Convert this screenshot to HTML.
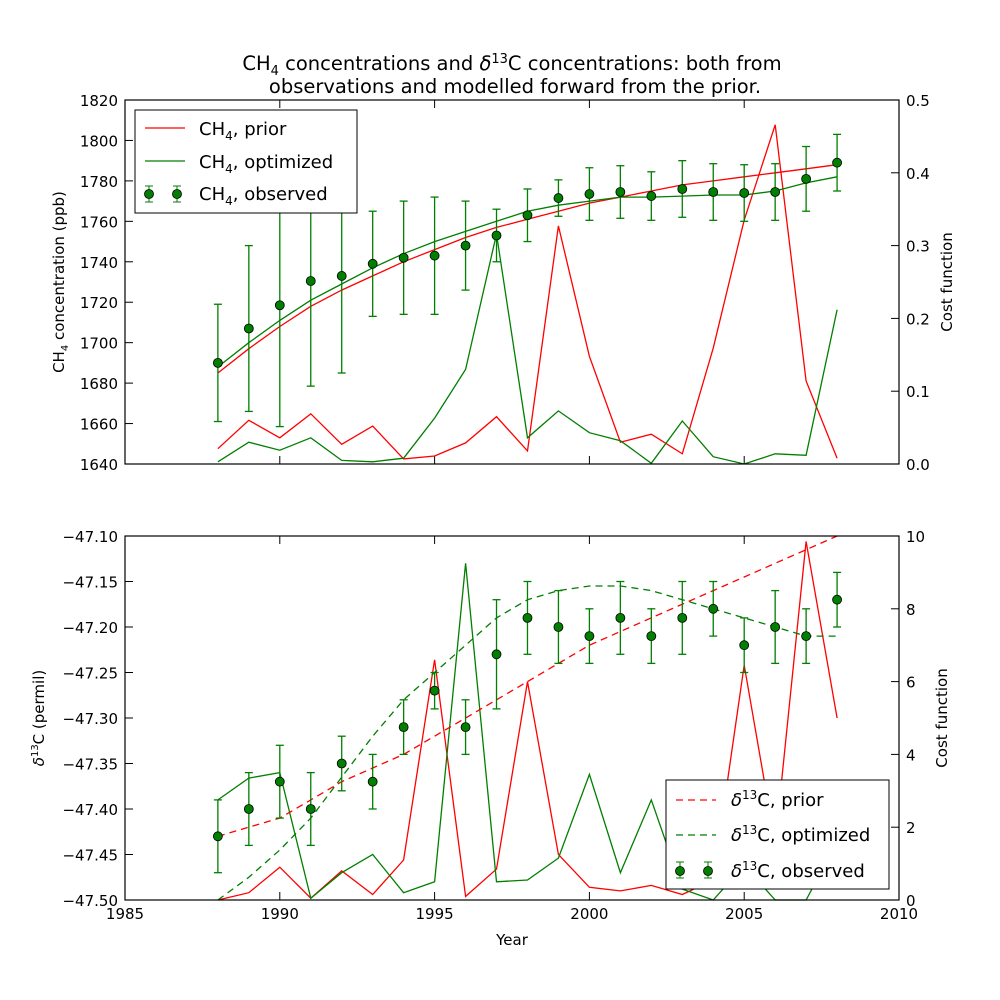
<!DOCTYPE html>
<html><head><meta charset="utf-8">
<style>
body{margin:0;background:#fff;}
svg{display:block;font-family:"DejaVu Sans","Liberation Sans",sans-serif;}
</style></head>
<body>
<svg id="fig" width="1000" height="1000" viewBox="0 0 1000 1000" xmlns="http://www.w3.org/2000/svg">
<rect width="1000" height="1000" fill="#fff"/>
<text x="512" y="70" font-size="19.5" text-anchor="middle">CH<tspan font-size="13" dy="5">4</tspan><tspan dy="-5"> concentrations and </tspan><tspan font-style="italic">δ</tspan><tspan font-size="13" dy="-7">13</tspan><tspan dy="7">C concentrations: both from</tspan></text>
<text x="515" y="93" font-size="19.5" text-anchor="middle">observations and modelled forward from the prior.</text>
<g id="top"></g>
<g id="bot"></g>
</svg>
<script>
const years=[1988,1989,1990,1991,1992,1993,1994,1995,1996,1997,1998,1999,2000,2001,2002,2003,2004,2005,2006,2007,2008];
const ch4Obs=[1690,1707,1718.5,1730.5,1733,1739,1742,1743,1748,1753,1763,1771.5,1773.5,1774.5,1772.5,1776,1774.5,1774,1774.5,1781,1789];
const ch4Err=[29,41,60,52,48,26,28,29,22,13,13,9,13,13,12,14,14,14,14,16,14];
const ch4Prior=[1685,1697,1708,1718,1726,1733,1740,1746,1752,1757,1761,1765,1769,1772,1775,1778,1780,1782,1784,1786,1788];
const ch4Opt=[1688,1700,1711,1721,1729,1737,1744,1750,1755,1760,1765,1768,1770,1772,1772,1772.5,1773,1773,1775,1779,1782];
const ch4CostPrior=[0.021,0.060,0.036,0.069,0.027,0.052,0.007,0.011,0.029,0.065,0.018,0.327,0.148,0.030,0.041,0.014,0.159,0.335,0.466,0.114,0.008];
const ch4CostOpt=[0.003,0.030,0.019,0.036,0.005,0.003,0.008,0.063,0.130,0.316,0.036,0.073,0.043,0.032,0.001,0.059,0.010,0.0,0.014,0.012,0.212];
const d13Obs=[-47.43,-47.40,-47.37,-47.40,-47.35,-47.37,-47.31,-47.27,-47.31,-47.23,-47.19,-47.20,-47.21,-47.19,-47.21,-47.19,-47.18,-47.22,-47.20,-47.21,-47.17];
const d13Err=[0.04,0.04,0.04,0.04,0.03,0.03,0.03,0.02,0.03,0.06,0.04,0.04,0.03,0.04,0.03,0.04,0.03,0.03,0.04,0.03,0.03];
const d13Prior=[-47.43,-47.42,-47.41,-47.39,-47.37,-47.355,-47.34,-47.32,-47.30,-47.28,-47.26,-47.24,-47.22,-47.205,-47.19,-47.175,-47.16,-47.145,-47.13,-47.115,-47.10];
const d13Opt=[-47.50,-47.475,-47.445,-47.41,-47.365,-47.32,-47.28,-47.25,-47.22,-47.19,-47.17,-47.16,-47.155,-47.155,-47.16,-47.17,-47.18,-47.19,-47.20,-47.21,-47.21];
const d13CostPrior=[0,0.2,0.9,0.05,0.8,0.15,1.1,6.6,0.1,0.85,6.0,1.25,0.35,0.25,0.4,0.15,0.55,6.45,1.55,9.85,5.0];
const d13CostOpt=[2.75,3.35,3.5,0.05,0.75,1.25,0.2,0.5,9.25,0.5,0.55,1.15,3.45,0.75,2.75,0.3,0,0.95,0,0,1.6];
const xTicks=[1985,1990,1995,2000,2005,2010];
const topLeftTicks=[1640,1660,1680,1700,1720,1740,1760,1780,1800,1820];
const topRightTicks=[0,0.1,0.2,0.3,0.4,0.5];
const botLeftTicks=[-47.5,-47.45,-47.4,-47.35,-47.3,-47.25,-47.2,-47.15,-47.1];
const botRightTicks=[0,2,4,6,8,10];

const NS='http://www.w3.org/2000/svg';
function mk(p,t,a,txt){const e=document.createElementNS(NS,t);for(const k in a)e.setAttribute(k,a[k]);if(txt!==undefined)e.textContent=txt;p.appendChild(e);return e;}
const L=125,R=899;
const X=v=>L+(v-1985)/25*(R-L);
function lin(d0,d1,p0,p1){return v=>p0+(v-d0)/(d1-d0)*(p1-p0);}

function panel(g,top,bot,yl,yr,lt,rt,fmtL,fmtR,showX){
  const ticks=mk(g,'g',{});
  
  
  xTicks.forEach(t=>{const x=X(t);
    mk(ticks,'line',{x1:x,x2:x,y1:bot,y2:bot-8,stroke:'#000'});
    mk(ticks,'line',{x1:x,x2:x,y1:top,y2:top+8,stroke:'#000'});
    if(showX){const tx=mk(ticks,'text',{x:x,y:bot+19,'font-size':15,'text-anchor':'middle'},String(t));
      }
  });
  lt.forEach(t=>{const y=yl(t);
    mk(ticks,'line',{x1:L,x2:L+8,y1:y,y2:y,stroke:'#000'});
    const tx=mk(ticks,'text',{x:L-7,y:y+6,'font-size':15,'text-anchor':'end'},fmtL(t));
    });
  rt.forEach(t=>{const y=yr(t);
    mk(ticks,'line',{x1:R,x2:R-8,y1:y,y2:y,stroke:'#000'});
    const tx=mk(ticks,'text',{x:R+7,y:y+6,'font-size':15,'text-anchor':'start'},fmtR(t));
    });
}
function path(g,xs,ys,fy,col,dash,name){
  const d=xs.map((v,i)=>(i?'L':'M')+X(v).toFixed(1)+' '+fy(ys[i]).toFixed(1)).join(' ');
  const p=mk(g,'path',{d:d,fill:'none',stroke:col,'stroke-width':1.3});
  if(dash)p.setAttribute('stroke-dasharray',dash);
  
  
}
function obs(g,xs,ys,es,fy,name){
  const gg=mk(g,'g',{});
  
  
  xs.forEach((v,i)=>{const x=X(v),y1=fy(ys[i]-es[i]),y2=fy(ys[i]+es[i]);
    mk(gg,'line',{x1:x,x2:x,y1:y1,y2:y2,stroke:'#007f00','stroke-width':1.3});
    mk(gg,'line',{x1:x-4,x2:x+4,y1:y1,y2:y1,stroke:'#007f00','stroke-width':1.3});
    mk(gg,'line',{x1:x-4,x2:x+4,y1:y2,y2:y2,stroke:'#007f00','stroke-width':1.3});
  });
  xs.forEach((v,i)=>{const c=mk(gg,'circle',{cx:X(v),cy:fy(ys[i]),r:4.5,fill:'#007f00',stroke:'#000','stroke-width':0.8});
    });
}
function frame(g,top,bot){const r=mk(g,'rect',{x:L,y:top,width:R-L,height:bot-top,fill:'none',stroke:'#000','stroke-width':1.2});
  }

const tg=document.getElementById('top');
const tyl=lin(1640,1820,464,100), tyr=lin(0,0.5,464,100);
panel(tg,100,464,tyl,tyr,topLeftTicks,topRightTicks,t=>String(t),t=>t.toFixed(1),false);
path(tg,years,ch4CostPrior,tyr,'#ff0000',null,'ch4-cost-prior-line');
path(tg,years,ch4CostOpt,tyr,'#007f00',null,'ch4-cost-optimized-line');
path(tg,years,ch4Prior,tyl,'#ff0000',null,'ch4-prior-line');
path(tg,years,ch4Opt,tyl,'#007f00',null,'ch4-optimized-line');
obs(tg,years,ch4Obs,ch4Err,tyl,'ch4-observed-series');
frame(tg,100,464);

const bg=document.getElementById('bot');
const byl=lin(-47.5,-47.1,900,536), byr=lin(0,10,900,536);
panel(bg,536,900,byl,byr,botLeftTicks,botRightTicks,t=>'\u2212'+Math.abs(t).toFixed(2),t=>String(t),true);
path(bg,years,d13CostPrior,byr,'#ff0000',null,'d13c-cost-prior-line');
path(bg,years,d13CostOpt,byr,'#007f00',null,'d13c-cost-optimized-line');
path(bg,years,d13Prior,byl,'#ff0000','7,5','d13c-prior-line');
path(bg,years,d13Opt,byl,'#007f00','7,5','d13c-optimized-line');
obs(bg,years,d13Obs,d13Err,byl,'d13c-observed-series');
frame(bg,536,900);
</script>
<svg style="position:absolute;left:0;top:0" width="1000" height="1000" font-family="DejaVu Sans, Liberation Sans, sans-serif">
<text transform="translate(64,282) rotate(-90)" font-size="15" text-anchor="middle">CH<tspan font-size="10" dy="4">4</tspan><tspan dy="-4"> concentration (ppb)</tspan></text>
<text transform="translate(952,282) rotate(-90)" font-size="15" text-anchor="middle">Cost function</text>
<text transform="translate(44,718) rotate(-90)" font-size="15" text-anchor="middle"><tspan font-style="italic">δ</tspan><tspan font-size="10" dy="-6">13</tspan><tspan dy="6">C (permil)</tspan></text>
<text transform="translate(947,718) rotate(-90)" font-size="15" text-anchor="middle">Cost function</text>
<text x="512" y="945" font-size="15" text-anchor="middle">Year</text>
<g>
<rect x="135" y="110" width="222" height="103" fill="#fff" stroke="#000" stroke-width="1"/>
<line x1="145" x2="185" y1="128" y2="128" stroke="#ff0000" stroke-width="1.3"/>
<text x="199" y="135" font-size="18">CH<tspan font-size="12" dy="5">4</tspan><tspan dy="-5">, prior</tspan></text>
<line x1="145" x2="185" y1="161" y2="161" stroke="#007f00" stroke-width="1.3"/>
<text x="199" y="168" font-size="18">CH<tspan font-size="12" dy="5">4</tspan><tspan dy="-5">, optimized</tspan></text>
<line x1="149" x2="149" y1="186" y2="202" stroke="#007f00"/><line x1="145" x2="153" y1="186" y2="186" stroke="#007f00"/><line x1="145" x2="153" y1="202" y2="202" stroke="#007f00"/>
<line x1="177" x2="177" y1="186" y2="202" stroke="#007f00"/><line x1="173" x2="181" y1="186" y2="186" stroke="#007f00"/><line x1="173" x2="181" y1="202" y2="202" stroke="#007f00"/>
<circle cx="149" cy="194" r="4.5" fill="#007f00" stroke="#000" stroke-width="0.8"/><circle cx="177" cy="194" r="4.5" fill="#007f00" stroke="#000" stroke-width="0.8"/>
<text x="199" y="200" font-size="18">CH<tspan font-size="12" dy="5">4</tspan><tspan dy="-5">, observed</tspan></text>
</g>
<g>
<rect x="666" y="780" width="223" height="109" fill="#fff" stroke="#000" stroke-width="1"/>
<line x1="676" x2="716" y1="800" y2="800" stroke="#ff0000" stroke-width="1.3" stroke-dasharray="7,5"/>
<text x="731" y="806" font-size="18"><tspan font-style="italic">δ</tspan><tspan font-size="12" dy="-7">13</tspan><tspan dy="7">C, prior</tspan></text>
<line x1="676" x2="716" y1="835" y2="835" stroke="#007f00" stroke-width="1.3" stroke-dasharray="7,5"/>
<text x="731" y="841" font-size="18"><tspan font-style="italic">δ</tspan><tspan font-size="12" dy="-7">13</tspan><tspan dy="7">C, optimized</tspan></text>
<line x1="680" x2="680" y1="862" y2="878" stroke="#007f00"/><line x1="676" x2="684" y1="862" y2="862" stroke="#007f00"/><line x1="676" x2="684" y1="878" y2="878" stroke="#007f00"/>
<line x1="708" x2="708" y1="862" y2="878" stroke="#007f00"/><line x1="704" x2="712" y1="862" y2="862" stroke="#007f00"/><line x1="704" x2="712" y1="878" y2="878" stroke="#007f00"/>
<circle cx="680" cy="871" r="4.5" fill="#007f00" stroke="#000" stroke-width="0.8"/><circle cx="708" cy="871" r="4.5" fill="#007f00" stroke="#000" stroke-width="0.8"/>
<text x="731" y="877" font-size="18"><tspan font-style="italic">δ</tspan><tspan font-size="12" dy="-7">13</tspan><tspan dy="7">C, observed</tspan></text>
</g>
</svg>
</body></html>
